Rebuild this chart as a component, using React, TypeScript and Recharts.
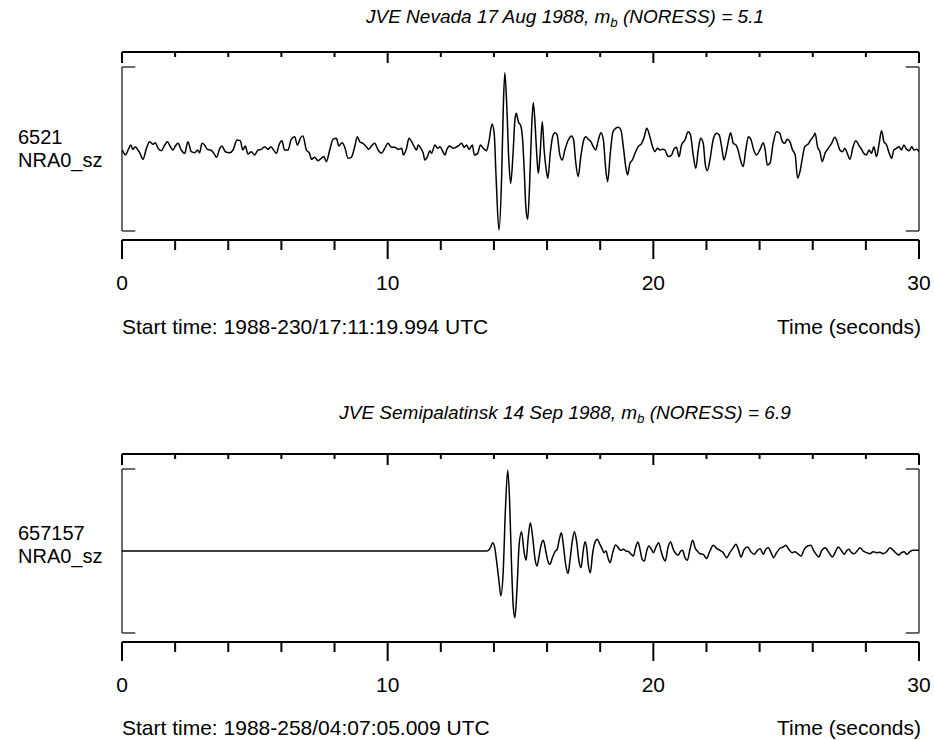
import React from 'react';
import { LineChart, Line, XAxis, YAxis, ReferenceLine } from 'recharts';

// ---- data (time in s, amplitude in % of scale bracket) ----
const timeTicks = [0, 2, 4, 6, 8, 10, 12, 14, 16, 18, 20, 22, 24, 26, 28, 30];
const labelledTicks = [0, 10, 20, 30];

const nevadaSamples: [number, number][] = [
  [0, -1.2], [0.04, -3.3], [0.13, -7.3], [0.23, -1.2], [0.33, 4.9], [0.41, -0.4], [0.5, 2.8], [0.6, -1.2],
  [0.68, -5.3], [0.79, -12.6], [0.92, 0.8], [1.04, 8.9], [1.17, 5.7], [1.25, 7.7], [1.36, 0.8], [1.48, -2],
  [1.61, 4.9], [1.71, 8.9], [1.82, 2.8], [1.92, -1.2], [2.01, 3.7], [2.11, 6.9], [2.23, -1.2], [2.36, -5.3],
  [2.48, 8.9], [2.61, -3.3], [2.74, -4.5], [2.84, -1.2], [2.92, -4.5], [3.01, 6.9], [3.11, 4.9], [3.21, -0.4],
  [3.34, -1.2], [3.46, -5.3], [3.56, -10.2], [3.68, 0.8], [3.76, 3.7], [3.89, -3.3], [4.05, -4.5], [4.18, -1.2],
  [4.33, 11], [4.45, 10.2], [4.55, -1.2], [4.64, 3.7], [4.74, -6.1], [4.87, -3.3], [4.99, -7.3], [5.12, -1.2],
  [5.24, -0.4], [5.37, 2.8], [5.5, -0.4], [5.6, 2.8], [5.72, -2], [5.81, -5.3], [5.93, 6.9], [6.02, 10.2],
  [6.12, -1.2], [6.25, -1.2], [6.37, 11.8], [6.5, 15], [6.6, 4.9], [6.73, 14.2], [6.81, 15.9], [6.94, -1.2],
  [7.06, -5.3], [7.13, -12.6], [7.25, -10.2], [7.38, -14.2], [7.5, -11.4], [7.6, -9.3], [7.69, -15.4], [7.82, -1.2],
  [7.94, 11.8], [8.07, 13], [8.16, 3.7], [8.28, 7.7], [8.38, 2.8], [8.51, -11.4], [8.63, -10.2], [8.76, 2.8],
  [8.86, 15], [8.95, 8.9], [9.07, 6.9], [9.2, 2.8], [9.28, -0.4], [9.39, 3.7], [9.51, 6.9], [9.64, -1.2],
  [9.76, -5.3], [9.89, 0.8], [10.01, 6.9], [10.15, 2], [10.27, 2], [10.4, -0.4], [10.53, 0.8], [10.59, -7.3],
  [10.71, 0.8], [10.8, 13], [10.9, 8.9], [11, 2.8], [11.09, -1.2], [11.15, 4.9], [11.25, 0.8], [11.34, -5.3],
  [11.4, -13.4], [11.5, -9.3], [11.59, -2], [11.65, -5.3], [11.78, 4.9], [11.88, 0.8], [11.97, 2.8], [12.06, -2],
  [12.16, -7.3], [12.22, -1.2], [12.34, 3.7], [12.47, 0.8], [12.56, 2], [12.66, 3.7], [12.78, 6.9], [12.88, 2],
  [12.97, 4.9], [13.06, -0.4], [13.19, 4.9], [13.26, -7.3], [13.39, -5.3], [13.49, 4.9], [13.6, 0.8], [13.72, -2],
  [13.81, 8.9], [13.93, 30.5], [14.01, 19.1], [14.08, -33.7], [14.19, -98.8], [14.29, -33.7], [14.35, 47.6], [14.41, 93.1],
  [14.49, 47.6], [14.56, -13.4], [14.63, -41.9], [14.72, -5.3], [14.79, 35.4], [14.84, 43.5], [14.92, 33.3], [15.02, 27.2],
  [15.08, 11], [15.14, -25.6], [15.2, -70.3], [15.27, -85.8], [15.34, -45.9], [15.42, 27.2], [15.48, 56.5], [15.54, 35.4],
  [15.61, -5.3], [15.67, -29.7], [15.74, -5.3], [15.82, 33.3], [15.89, -1.2], [15.97, -25.6], [16.03, -35.8], [16.12, -5.3],
  [16.21, 15], [16.3, 19.9], [16.38, 17.1], [16.47, -5.3], [16.57, -13.4], [16.67, -1.2], [16.8, 11], [16.92, 15.9],
  [17, 11], [17.07, -13.4], [17.17, -33.7], [17.27, -9.3], [17.38, 11], [17.46, 15], [17.55, 11.8], [17.65, 8.9],
  [17.74, 2.8], [17.83, -1.2], [17.93, 11], [18.03, 19.9], [18.12, 11], [18.2, -21.5], [18.28, -39.8], [18.38, -5.3],
  [18.48, 21.1], [18.58, 25.2], [18.68, 26.4], [18.78, 23.2], [18.87, 2.8], [18.96, -21.5], [19.03, -31.7], [19.12, -17.5],
  [19.21, -13.4], [19.31, -5.3], [19.43, 2.8], [19.56, 6.9], [19.66, 15], [19.75, 25.2], [19.87, 15], [19.97, 2.8],
  [20.06, -3.3], [20.15, 0.8], [20.25, -1.2], [20.35, -0.4], [20.43, -1.2], [20.56, -9.3], [20.69, -7.3], [20.77, -0.4],
  [20.87, 2], [20.97, -9.3], [21.06, 4.9], [21.19, 11], [21.31, 21.1], [21.4, 17.1], [21.5, -7.3], [21.6, -23.6],
  [21.69, -1.2], [21.78, 13], [21.88, 6.9], [21.95, -17.5], [22.03, -26.4], [22.13, -13.4], [22.25, 11], [22.38, 19.1],
  [22.48, 17.1], [22.57, 2.8], [22.66, -13.4], [22.76, -1.2], [22.86, 15], [22.91, 19.9], [23.01, 6.9], [23.11, 4.9],
  [23.19, -1.2], [23.28, -13.4], [23.38, -21.5], [23.48, -1.2], [23.58, 15], [23.68, 11], [23.78, -1.2], [23.88, -7.3],
  [24.01, -1.2], [24.14, 7.7], [24.21, -1.2], [24.29, -19.5], [24.39, -17.5], [24.51, 6.9], [24.64, 21.1], [24.76, 19.1],
  [24.86, 8.9], [24.95, 6.9], [25.04, 11.8], [25.14, 8.9], [25.24, -1.2], [25.34, -7.3], [25.43, -35.8], [25.52, -27.6],
  [25.62, -9.3], [25.7, 2.8], [25.83, 6.1], [25.92, 11], [26.02, 15], [26.09, 19.1], [26.18, 2.8], [26.27, -3.3],
  [26.36, -15.4], [26.46, -5.3], [26.58, 0.8], [26.71, 6.9], [26.83, 14.2], [26.92, 8.9], [27.02, -1.2], [27.12, -3.3],
  [27.21, 0.8], [27.3, -5.3], [27.4, -12.6], [27.52, 2.8], [27.62, 10.2], [27.75, 3.7], [27.84, -0.4], [27.92, -5.3],
  [28.02, -7.3], [28.12, -1.2], [28.21, -5.3], [28.3, 2.8], [28.4, -9.3], [28.5, 6.9], [28.59, 22.4], [28.68, 8.9],
  [28.78, 4.9], [28.88, -5.3], [28.97, -11.4], [29.05, -1.2], [29.15, 0.8], [29.25, 2.8], [29.34, -1.2], [29.43, 4.9],
  [29.53, -0.4], [29.63, -2], [29.73, 2.8], [29.81, -1.2], [29.91, -0.4], [30, -3.3],
];

const semipalatinskSamples: [number, number][] = [
  [0, 0], [13.72, 0], [13.79, 0.8], [13.88, 4.9], [13.95, 10.2], [14.03, 4.1], [14.1, -12.2], [14.19, -36.6],
  [14.26, -54.9], [14.35, -24.4], [14.43, 48.8], [14.52, 98.4], [14.59, 61], [14.67, -24.4], [14.73, -69.1], [14.79, -81.3],
  [14.87, -44.7], [14.95, 8.1], [15.04, 23.6], [15.13, 0], [15.21, -11.4], [15.29, 16.3], [15.37, 34.6], [15.46, 16.3],
  [15.54, -8.1], [15.62, -18.3], [15.71, -4.1], [15.78, 8.1], [15.86, 13], [15.95, 0], [16.03, -12.2], [16.11, -16.3],
  [16.2, -8.1], [16.3, -0.8], [16.38, 2], [16.46, 14.2], [16.54, 22.4], [16.61, 8.1], [16.7, -16.3], [16.79, -27.6],
  [16.86, -12.2], [16.95, 12.2], [17.03, 23.6], [17.11, 12.2], [17.2, -12.2], [17.28, -20.3], [17.36, 0], [17.43, 11.4],
  [17.49, 4.1], [17.55, -16.3], [17.63, -26.4], [17.71, -4.1], [17.8, 10.2], [17.89, 14.2], [17.99, 8.1], [18.08, 2],
  [18.14, -2], [18.22, 0], [18.29, -8.1], [18.37, -14.2], [18.47, -2], [18.58, 7.3], [18.68, 4.1], [18.77, 0.8],
  [18.87, 2], [18.97, 0], [19.07, -0.8], [19.17, -4.1], [19.25, -6.1], [19.33, 4.1], [19.42, 11], [19.51, 0],
  [19.58, -10.2], [19.66, -12.2], [19.75, 0], [19.83, 6.1], [19.93, 2], [20, -2], [20.1, 4.9], [20.2, 10.2],
  [20.29, 0], [20.37, -8.1], [20.45, -12.2], [20.55, 4.1], [20.65, 11], [20.75, 2], [20.85, -3.3], [20.94, -4.9],
  [21.03, 0], [21.1, 0.8], [21.19, -8.1], [21.28, -11.4], [21.38, 2], [21.48, 13], [21.58, 3.3], [21.68, -0.8],
  [21.75, -3.3], [21.88, -4.1], [22, -9.3], [22.13, 0], [22.26, 6.9], [22.38, 3.3], [22.51, 0.8], [22.63, -2],
  [22.76, -8.1], [22.88, -2], [23.01, 4.1], [23.11, 8.1], [23.2, 2], [23.3, -7.3], [23.42, 2], [23.55, 4.9],
  [23.67, -0.8], [23.8, -4.1], [23.92, 0.8], [24.02, 2.8], [24.14, -4.1], [24.23, 2], [24.33, 4.1], [24.43, -2],
  [24.53, -8.1], [24.64, -2], [24.77, 3.3], [24.89, 4.9], [24.99, 6.9], [25.1, 2], [25.23, -2], [25.33, -0.8],
  [25.43, -3.3], [25.56, -6.1], [25.68, 2], [25.81, 6.1], [25.93, 6.9], [26.03, 0.8], [26.13, -4.1], [26.23, -7.3],
  [26.33, 0], [26.46, 4.1], [26.56, 0.8], [26.65, -4.1], [26.74, -7.3], [26.84, -2], [26.96, 4.9], [27.09, 0],
  [27.19, -4.1], [27.27, 0], [27.36, 2], [27.46, -2], [27.56, -3.3], [27.69, 0.8], [27.78, 4.1], [27.9, 0],
  [28.03, -2], [28.15, -3.3], [28.28, -0.8], [28.4, -2], [28.53, -1.6], [28.65, -3.3], [28.78, -0.8], [28.91, 4.1],
  [29.03, 0.8], [29.16, -3.3], [29.24, -4.9], [29.34, -2], [29.44, -0.8], [29.54, -4.1], [29.66, -0.8], [29.78, 0.8],
  [29.91, 0.8], [30, 0.8],
];

const timeDomain: [number, number] = [0, 30];
const ampDomain: [number, number] = [-111, 118.3];
const bracketAmp = 100;
const bracketTip = 0.5;

const FONT = '"Liberation Sans", Arial, Helvetica, sans-serif';
const FS = 21;
const TITLE_FS = 19;
const SIDE_FS = 20;
const TOP_AXIS_H = 20;
const BOTTOM_AXIS_H = 60;

const TopTick = (props: any) => {
  const { x, y, payload } = props;
  const major = labelledTicks.includes(payload.value);
  return <line x1={x} x2={x} y1={y} y2={y + (major ? 11 : 5)} stroke="#000" strokeWidth={2} />;
};

const BottomTick = (props: any) => {
  const { x, y, payload } = props;
  const major = labelledTicks.includes(payload.value);
  return (
    <g>
      <line x1={x} x2={x} y1={y} y2={y + (major ? 19 : 10)} stroke="#000" strokeWidth={2} />
      {major && (
        <text x={x} y={y + 50} textAnchor="middle" fontFamily={FONT} fontSize={FS} fill="#000">
          {payload.value}
        </text>
      )}
    </g>
  );
};

type PanelProps = {
  samples: [number, number][];
  titleMain: string;
  titleTail: string;
  scale: string;
  start: string;
  height: number;
  top: number;
  bottom: number;
  titleY: number;
  labelY: [number, number];
  startY: number;
};

const Panel = (p: PanelProps) => {
  const data = p.samples.map(([t, a]) => ({ t, a }));
  const brStroke = '#3a3a3a';
  return (
    <LineChart width={934} height={p.height} data={data}
      margin={{ top: p.top - TOP_AXIS_H, right: 15, bottom: p.bottom - BOTTOM_AXIS_H, left: 122 }}>
      <XAxis xAxisId="top" orientation="top" dataKey="t" type="number" domain={timeDomain} ticks={timeTicks}
        interval={0} height={TOP_AXIS_H} tickSize={0} tickMargin={0} tickLine={false} tick={<TopTick />}
        axisLine={{ stroke: '#000', strokeWidth: 2 }} allowDataOverflow />
      <XAxis xAxisId="bottom" orientation="bottom" dataKey="t" type="number" domain={timeDomain} ticks={timeTicks}
        interval={0} height={BOTTOM_AXIS_H} tickSize={0} tickMargin={0} tickLine={false} tick={<BottomTick />}
        axisLine={{ stroke: '#000', strokeWidth: 2 }} allowDataOverflow />
      <YAxis hide domain={ampDomain} type="number" allowDataOverflow />
      <ReferenceLine xAxisId="bottom" segment={[{ x: 0, y: -bracketAmp }, { x: 0, y: bracketAmp }]} stroke={brStroke} strokeWidth={1.5} />
      <ReferenceLine xAxisId="bottom" segment={[{ x: 0, y: bracketAmp }, { x: bracketTip, y: bracketAmp }]} stroke={brStroke} strokeWidth={1.5} />
      <ReferenceLine xAxisId="bottom" segment={[{ x: 0, y: -bracketAmp }, { x: bracketTip, y: -bracketAmp }]} stroke={brStroke} strokeWidth={1.5} />
      <ReferenceLine xAxisId="bottom" segment={[{ x: 30, y: -bracketAmp }, { x: 30, y: bracketAmp }]} stroke={brStroke} strokeWidth={1.5} />
      <ReferenceLine xAxisId="bottom" segment={[{ x: 30 - bracketTip, y: bracketAmp }, { x: 30, y: bracketAmp }]} stroke={brStroke} strokeWidth={1.5} />
      <ReferenceLine xAxisId="bottom" segment={[{ x: 30 - bracketTip, y: -bracketAmp }, { x: 30, y: -bracketAmp }]} stroke={brStroke} strokeWidth={1.5} />
      <Line xAxisId="bottom" dataKey="a" type="monotone" stroke="#000" strokeWidth={1.5} dot={false} isAnimationActive={false} />
      <text x={565} y={p.titleY} textAnchor="middle" fontFamily={FONT} fontSize={TITLE_FS} fontStyle="italic" fill="#000">
        <tspan>{p.titleMain}m</tspan>
        <tspan fontSize={TITLE_FS * 0.7} dy={4}>b</tspan>
        <tspan dy={-4}>{p.titleTail}</tspan>
      </text>
      <text x={18} y={p.labelY[0]} fontFamily={FONT} fontSize={SIDE_FS} fill="#000">{p.scale}</text>
      <text x={18} y={p.labelY[1]} fontFamily={FONT} fontSize={SIDE_FS} fill="#000">NRA0_sz</text>
      <text x={122} y={p.startY} fontFamily={FONT} fontSize={FS} fill="#000">{p.start}</text>
      <text x={921} y={p.startY} textAnchor="end" fontFamily={FONT} fontSize={FS} fill="#000">Time (seconds)</text>
    </LineChart>
  );
};

export default function App() {
  return (
    <div style={{ position: 'absolute', left: 0, top: 0, width: 934, height: 740, background: '#fff' }}>
      <div style={{ position: 'absolute', left: 0, top: 0 }}>
        <Panel samples={nevadaSamples} titleMain="JVE Nevada 17 Aug 1988, " titleTail=" (NORESS) = 5.1"
          scale="6521" start="Start time: 1988-230/17:11:19.994 UTC" height={370} top={52} bottom={130}
          titleY={23} labelY={[144, 167]} startY={334} />
      </div>
      <div style={{ position: 'absolute', left: 0, top: 370 }}>
        <Panel samples={semipalatinskSamples} titleMain="JVE Semipalatinsk 14 Sep 1988, " titleTail=" (NORESS) = 6.9"
          scale="657157" start="Start time: 1988-258/04:07:05.009 UTC" height={370} top={84} bottom={98}
          titleY={49} labelY={[170, 193]} startY={365} />
      </div>
    </div>
  );
}
